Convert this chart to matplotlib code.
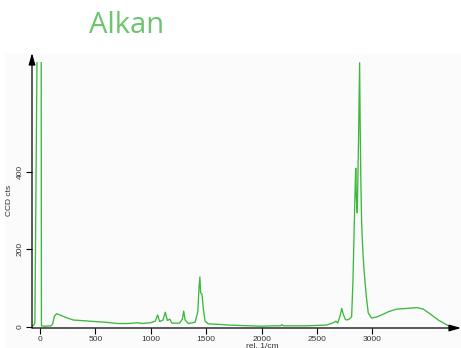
import matplotlib
matplotlib.use("Agg")
import matplotlib.pyplot as plt

# Raman spectrum of an alkane: Raman shift (rel. 1/cm) and CCD counts
shift = [-72, -58, -46, -26, 11, 13, 40, 100, 115, 130, 150, 180, 230, 300, 400,
         500, 600, 700, 800, 880, 920, 1000, 1040, 1062, 1080, 1110, 1131, 1150,
         1173, 1190, 1260, 1285, 1297, 1310, 1340, 1400, 1425, 1435, 1443, 1450,
         1462, 1475, 1490, 1520, 1600, 1700, 1800, 1900, 2000, 2100, 2170, 2182,
         2195, 2300, 2400, 2500, 2587, 2647, 2671, 2687, 2710, 2723, 2735, 2755,
         2768, 2790, 2805, 2813, 2825, 2837, 2845, 2850, 2856, 2864, 2875, 2885,
         2890, 2896, 2903, 2915, 2927, 2945, 2963, 2993, 3040, 3083, 3150, 3219,
         3320, 3400, 3460, 3520, 3600, 3700]
counts = [3, 4, 10, 720, 720, 3, 2, 3, 8, 28, 34, 31, 25, 18, 16,
          14, 12, 9, 9, 11, 9, 11, 15, 31, 14, 18, 38, 17,
          20, 10, 10, 20, 41, 18, 9, 12, 40, 100, 129, 88,
          85, 45, 15, 8, 7, 5, 4, 3, 2, 3, 3, 6,
          3, 3, 3, 4, 5, 11, 15, 10, 30, 48, 35, 20,
          18, 20, 24, 27, 120, 268, 360, 409, 330, 294, 480, 681,
          520, 380, 268, 190, 139, 80, 36, 23, 26, 31, 40, 46,
          48, 50, 46, 34, 17, 1]

xticks = [0, 500, 1000, 1500, 2000, 2500, 3000]
yticks = [0, 200, 400]

W, H, DPI = 461, 348, 100
fig = plt.figure(figsize=(W / DPI, H / DPI), dpi=DPI)
fig.patch.set_facecolor("white")

# faint panel behind the chart
bg = fig.add_axes([5 / W, 0, 456 / W, 1 - 53 / H], zorder=-1)
bg.set_axis_off()
bg.add_patch(plt.Rectangle((0, 0), 1, 1, transform=bg.transAxes,
                           facecolor="#fbfbfb", edgecolor="none"))

fig.text(127 / W, 1 - 33 / H, "Alkan", ha="center", va="baseline",
         fontsize=21, color="#6cc46c", family="Open Sans")

# plotting area: bottom at the x axis, top where the tallest peak is cut
left_px, right_px, top_px, bot_px = 32, 461, 62, 328
ax = fig.add_axes([left_px / W, 1 - bot_px / H, (right_px - left_px) / W,
                   (bot_px - top_px) / H], zorder=1)
ax.set_facecolor("none")
ax.plot(shift, counts, color="#3cb83c", lw=0.95)

ax.set_xlim(-72, 3800)
ax.set_ylim(-2.6, 683)
ax.set_xticks(xticks)
ax.set_yticks(yticks)

for s in ("top", "right", "left", "bottom"):
    ax.spines[s].set_visible(False)

# axes with arrow heads; the vertical one reaches a little above the plot
arrow = dict(arrowstyle="-|>,head_length=0.7,head_width=0.2",
             color="black", lw=0.9, shrinkA=0, shrinkB=0)
ax.annotate("", xy=(1, 0), xytext=(0, 0), xycoords="axes fraction",
            arrowprops=arrow, annotation_clip=False)
ax.annotate("", xy=(0, 1 + 9 / (bot_px - top_px)), xytext=(0, 0),
            xycoords="axes fraction", arrowprops=arrow, annotation_clip=False)

ax.tick_params(axis="both", direction="out", length=4, width=0.8,
               labelsize=6, labelcolor="#333333", pad=2)
for lab in ax.get_yticklabels():
    lab.set_rotation(90)
    lab.set_va("center")
    lab.set_family("Liberation Sans")
for lab in ax.get_xticklabels():
    lab.set_family("Liberation Sans")

ax.set_xlabel("rel. 1/cm", fontsize=6, color="#333333", family="Liberation Sans")
ax.xaxis.set_label_coords((262 - left_px) / (right_px - left_px),
                          -15 / (bot_px - top_px))
ax.xaxis.label.set_va("top")
ax.set_ylabel("CCD cts", fontsize=6, color="#333333", family="Liberation Sans")
ax.yaxis.set_label_coords(-(left_px - 13) / (right_px - left_px),
                          (bot_px - 200) / (bot_px - top_px))

fig.savefig("out.png", dpi=DPI)
